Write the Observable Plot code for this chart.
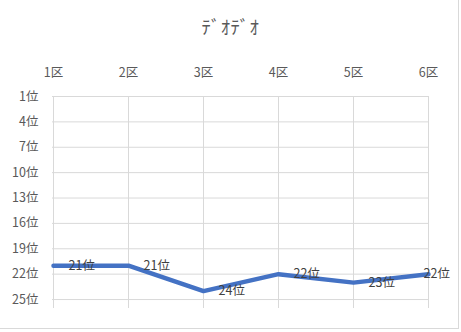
<!DOCTYPE html>
<html>
<head>
<meta charset="utf-8">
<script src="https://cdn.jsdelivr.net/npm/d3@7"></script>
<script src="https://cdn.jsdelivr.net/npm/@observablehq/plot@0.6"></script>
<style>
  html, body { margin: 0; padding: 0; background: #fff; }
  #wrap { position: relative; width: 461px; height: 332px; overflow: hidden; }
  #border { position: absolute; left: 0; top: 0; width: 458px; height: 328px; border-right: 1px solid #d9d9d9; border-bottom: 1px solid #d9d9d9; }
  #title { position: absolute; left: 0; top: 12px; width: 461px; text-align: center; font-family: "Noto Sans CJK JP", sans-serif; font-size: 18.6px; color: #595959; letter-spacing: 0.5px; }
  svg { position: absolute; left: 0; top: 0; max-width: none !important; }
</style>
</head>
<body>
<div id="wrap"><div id="border"></div><div id="title"></div></div>
<script>
const title = "ﾃﾞｵﾃﾞｵ";
const categories = ["1区", "2区", "3区", "4区", "5区", "6区"];
const ranks = [21, 21, 24, 22, 23, 22];
const yTicks = [1, 4, 7, 10, 13, 16, 19, 22, 25];
const rankSuffix = "位";

document.getElementById("title").textContent = title;

const data = categories.map((c, i) => ({ cat: c, rank: ranks[i], label: ranks[i] + rankSuffix }));
const font = "'Noto Sans CJK JP', 'Noto Sans', sans-serif";
const grid = "#d9d9d9";
const txt = "#595959";

const chart = Plot.plot({
  width: 461,
  height: 332,
  marginTop: 96,
  marginLeft: 52,
  marginRight: 33,
  marginBottom: 24,
  style: { fontFamily: font, fontSize: "12px", color: txt, background: "transparent", overflow: "visible", maxWidth: "none" },
  x: { type: "point", domain: categories, padding: 0, axis: null },
  y: { domain: [1, 26.06], reverse: true, axis: null },
  marks: [
    Plot.ruleY(yTicks, { stroke: grid, strokeWidth: 1 }),
    Plot.ruleX(categories, { stroke: grid, strokeWidth: 1 }),
    Plot.axisX(categories, { anchor: "top", tickSize: 0, tickPadding: 0, dy: -20, fill: txt, fontSize: 12.5, label: null }),
    Plot.axisY(yTicks, { anchor: "left", tickSize: 0, tickPadding: 14, fill: txt, fontSize: 12.5, tickFormat: d => d + rankSuffix, label: null }),
    Plot.line(data, { x: "cat", y: "rank", stroke: "#4472C4", strokeWidth: 4.5, strokeLinejoin: "round", strokeLinecap: "round" }),
    Plot.text(data.slice(0, -1), { x: "cat", y: "rank", text: "label", textAnchor: "start", dx: 15, fill: "#404040", fontSize: 12.5 }),
    Plot.text(data.slice(-1), { x: "cat", y: "rank", text: "label", textAnchor: "start", dx: -5, fill: "#404040", fontSize: 12.5 })
  ]
});
document.getElementById("wrap").appendChild(chart);
</script>
</body>
</html>
